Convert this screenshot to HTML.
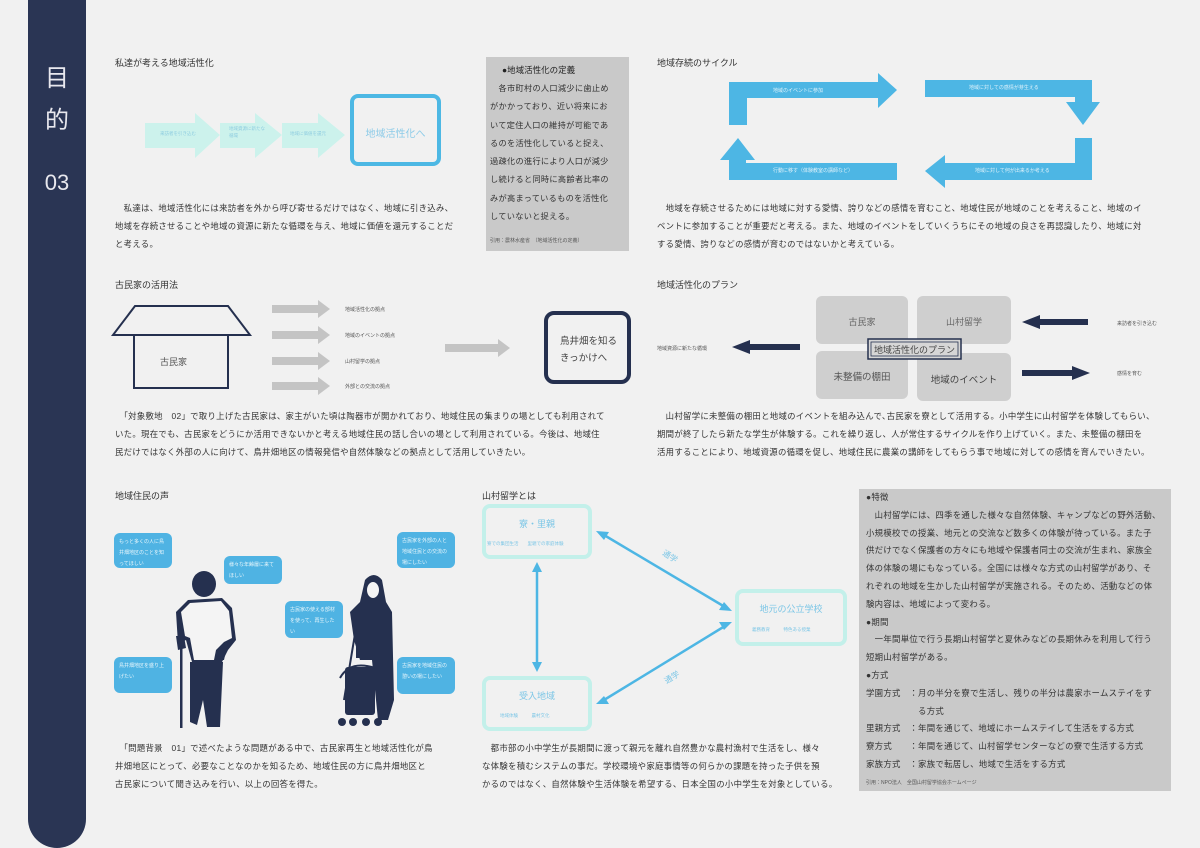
<!DOCTYPE html>
<html><head><meta charset="utf-8">
<style>
*{margin:0;padding:0;box-sizing:border-box}
body{width:1200px;height:848px;background:#f1f1f1;position:relative;overflow:hidden;font-family:"Liberation Sans","Noto Sans CJK JP",sans-serif;color:#333}
.a{position:absolute;white-space:nowrap}
.t{font-size:9px;color:#333}
.p{font-size:8.4px;line-height:18px;color:#333;letter-spacing:0.3px}
.s{font-size:5px;color:#555}
.gray{position:absolute;background:#c9c9c9}
.bub{position:absolute;background:#4fb3e3;border-radius:6px;color:#e8f6fc;font-size:5px;line-height:11px;padding:4px 5px;white-space:normal}
</style></head><body>
<div style="position:absolute;left:28px;top:-30px;width:58px;height:878px;background:#2a3554;border-radius:0 0 29px 29px"></div>
<div class="a" style="left:28px;width:58px;text-align:center;top:58px;color:#e8e8ee;font-size:24px">目</div>
<div class="a" style="left:28px;width:58px;text-align:center;top:100px;color:#e8e8ee;font-size:24px">的</div>
<div class="a" style="left:28px;width:58px;text-align:center;top:170px;color:#e8e8ee;font-size:22px">03</div>

<svg width="1200" height="848" style="position:absolute;left:0;top:0">
<g fill="#c9f3ec" opacity="0.9">
<polygon points="145,123 195,123 195,113 220,135 195,158 195,148 145,148"/>
<polygon points="220,123 255,123 255,113 282,135 255,158 255,148 220,148"/>
<polygon points="282,123 318,123 318,113 345,135 318,158 318,148 282,148"/>
</g>
<rect x="352" y="96" width="87" height="68" rx="6" fill="none" stroke="#4db8e4" stroke-width="4"/>
<g fill="#4db6e4">
<polygon points="729,82 878,82 878,73 897,90 878,108 878,98 747,98 747,125 729,125"/>
<polygon points="925,80 1092,80 1092,102 1100,102 1083,125 1066,102 1075,102 1075,97 925,97"/>
<polygon points="1075,138 1092,138 1092,180 945,180 945,188 925,171 945,155 945,163 1075,163"/>
<polygon points="897,163 897,180 729,180 729,160 720,160 738,138 755,160 746,160 746,163"/>
</g>
<g fill="none" stroke="#25304f" stroke-width="2">
<polygon points="135,306 228,306 250,335 113,335"/>
<rect x="134" y="335" width="94" height="53"/>
</g>
<g fill="#c4c4c4">
<polygon points="272,305 318,305 318,300 330,309 318,318 318,313 272,313"/>
<polygon points="272,331 318,331 318,326 330,335 318,344 318,339 272,339"/>
<polygon points="272,357 318,357 318,352 330,361 318,370 318,365 272,365"/>
<polygon points="272,382 318,382 318,377 330,386 318,395 318,390 272,390"/>
<polygon points="445,344 498,344 498,339 510,348 498,357 498,352 445,352"/>
</g>
<rect x="546" y="313" width="83" height="69" rx="8" fill="none" stroke="#25304f" stroke-width="4"/>
<g fill="#cfcfcf">
<rect x="816" y="296" width="92" height="48" rx="6"/>
<rect x="917" y="296" width="94" height="48" rx="6"/>
<rect x="816" y="351" width="92" height="48" rx="6"/>
<rect x="917" y="353" width="94" height="48" rx="6"/>
</g>
<g fill="#25304f">
<polygon points="800,344 750,344 750,340 732,347 750,354 750,350 800,350"/>
<polygon points="1088,319 1040,319 1040,315 1022,322 1040,329 1040,325 1088,325"/>
<polygon points="1022,370 1072,370 1072,366 1090,373 1072,380 1072,376 1022,376"/>
</g>
<rect x="868" y="339" width="93" height="20" fill="#d6d6d6" stroke="#25304f" stroke-width="1.5"/>
<rect x="871" y="342" width="87" height="14" fill="none" stroke="#25304f" stroke-width="0.8"/>
<g fill="none" stroke="#c3f0ea" stroke-width="4">
<rect x="484" y="506" width="106" height="51" rx="6"/>
<rect x="737" y="591" width="108" height="53" rx="6"/>
<rect x="484" y="678" width="106" height="51" rx="6"/>
</g>
<g stroke="#4db6e4" stroke-width="2.5" fill="#4db6e4">
<line x1="537" y1="568" x2="537" y2="666"/>
<polygon points="537,562 532,572 542,572" stroke="none"/>
<polygon points="537,672 532,662 542,662" stroke="none"/>
<line x1="604" y1="535" x2="725" y2="607"/>
<polygon points="596,531 609,532 604,540" stroke="none"/>
<polygon points="732,611 719,610 724,602" stroke="none"/>
<line x1="604" y1="700" x2="725" y2="626"/>
<polygon points="596,704 604,696 609,704" stroke="none"/>
<polygon points="732,622 724,630 719,622" stroke="none"/>
</g>
<g fill="#25304f">
<ellipse cx="204" cy="584" rx="12" ry="13"/>
<path d="M188,600 L222,598 L232,608 L236,640 L228,650 L222,662 L192,662 L186,640 L178,644 L176,612 Z"/>
<path d="M190,662 L223,662 L220,727 L207,727 L203,700 L197,725 L190,722 Z"/>
<rect x="180" y="640" width="2.5" height="88"/>
<path d="M176,636 L184,636 L186,648 L178,650 Z"/>
<path d="M215,650 L228,642 L224,660 L214,660 Z"/>
</g>
<path d="M190,603 L221,601 L229,611 L232,638 L224,642 L216,650 L214,660 L194,660 L190,638 L185,636 L181,612 Z" fill="#f4f4f4"/>
<g fill="#25304f">
<path d="M365,580 Q374,570 382,580 L386,602 L392,612 L394,700 L388,720 L378,720 L372,660 L360,660 L354,640 L350,612 L360,602 Z"/>
<rect x="356" y="630" width="20" height="28"/>
<rect x="345" y="667" width="30" height="48" rx="3"/>
<circle cx="342" cy="722" r="4"/><circle cx="353" cy="722" r="4"/><circle cx="366" cy="722" r="4"/><circle cx="378" cy="722" r="4"/>
</g>
<ellipse cx="373" cy="590" rx="6" ry="8" fill="#f4f4f4"/>
<g fill="none" stroke="#25304f" stroke-width="2">
<path d="M356,628 L378,628 L378,665"/>
<path d="M356,628 L344,700"/>
<path d="M340,678 Q350,660 375,668"/>
</g>
</svg>

<div class="a t" style="left:115px;top:56px">私達が考える地域活性化</div>
<div class="a" style="left:160px;top:131px;font-size:4.5px;color:#8fcde0">来訪者を引き込む</div>
<div class="a" style="left:229px;top:125px;font-size:4.5px;color:#8fcde0;line-height:7px">地域資源に新たな<br>循環</div>
<div class="a" style="left:290px;top:131px;font-size:4.5px;color:#8fcde0">地域に価値を還元</div>
<div class="a" style="left:352px;width:87px;text-align:center;top:125px;font-size:10px;color:#8ccbe8">地域活性化へ</div>
<div class="a p" style="left:115px;top:199px">　私達は、地域活性化には来訪者を外から呼び寄せるだけではなく、地域に引き込み、<br>地域を存続させることや地域の資源に新たな循環を与え、地域に価値を還元することだ<br>と考える。</div>

<div class="gray" style="left:486px;top:57px;width:143px;height:194px"></div>
<div class="a" style="left:502px;top:64px;font-size:8.5px;color:#222">●地域活性化の定義</div>
<div class="a p" style="left:490px;top:80px;font-size:8.2px;line-height:18.3px">　各市町村の人口減少に歯止め<br>がかかっており、近い将来にお<br>いて定住人口の維持が可能であ<br>るのを活性化していると捉え、<br>過疎化の進行により人口が減少<br>し続けると同時に高齢者比率の<br>みが高まっているものを活性化<br>していないと捉える。</div>
<div class="a s" style="left:490px;top:237px">引用：農林水産省　（地域活性化の定義）</div>

<div class="a t" style="left:657px;top:56px">地域存続のサイクル</div>
<div class="a" style="left:773px;top:87px;font-size:5px;color:#dff2fb">地域のイベントに参加</div>
<div class="a" style="left:969px;top:84px;font-size:5px;color:#dff2fb">地域に対しての感情が芽生える</div>
<div class="a" style="left:975px;top:167px;font-size:5px;color:#dff2fb">地域に対して何が出来るか考える</div>
<div class="a" style="left:773px;top:167px;font-size:5px;color:#dff2fb">行動に移す（体験教室の講師など）</div>
<div class="a p" style="left:657px;top:199px">　地域を存続させるためには地域に対する愛情、誇りなどの感情を育むこと、地域住民が地域のことを考えること、地域のイ<br>ベントに参加することが重要だと考える。また、地域のイベントをしていくうちにその地域の良さを再認識したり、地域に対<br>する愛情、誇りなどの感情が育むのではないかと考えている。</div>

<div class="a t" style="left:115px;top:278px">古民家の活用法</div>
<div class="a" style="left:160px;top:355px;font-size:9px;color:#555">古民家</div>
<div class="a s" style="left:345px;top:306px">地域活性化の拠点</div>
<div class="a s" style="left:345px;top:332px">地域のイベントの拠点</div>
<div class="a s" style="left:345px;top:358px">山村留学の拠点</div>
<div class="a s" style="left:345px;top:383px">外部との交流の拠点</div>
<div class="a" style="left:560px;top:333px;font-size:9.5px;line-height:17px;color:#444">鳥井畑を知る<br>きっかけへ</div>
<div class="a p" style="left:115px;top:407px">　「対象敷地　02」で取り上げた古民家は、家主がいた頃は陶器市が開かれており、地域住民の集まりの場としても利用されて<br>いた。現在でも、古民家をどうにか活用できないかと考える地域住民の話し合いの場として利用されている。今後は、地域住<br>民だけではなく外部の人に向けて、鳥井畑地区の情報発信や自然体験などの拠点として活用していきたい。</div>

<div class="a t" style="left:657px;top:278px">地域活性化のプラン</div>
<div class="a" style="left:816px;width:92px;text-align:center;top:315px;font-size:9px;color:#666">古民家</div>
<div class="a" style="left:917px;width:94px;text-align:center;top:315px;font-size:9px;color:#666">山村留学</div>
<div class="a" style="left:816px;width:92px;text-align:center;top:369px;font-size:9.5px;color:#555">未整備の棚田</div>
<div class="a" style="left:917px;width:94px;text-align:center;top:372px;font-size:9.5px;color:#444">地域のイベント</div>
<div class="a" style="left:868px;width:93px;text-align:center;top:343px;font-size:9px;color:#444">地域活性化のプラン</div>
<div class="a s" style="left:657px;top:345px">地域資源に新たな循環</div>
<div class="a s" style="left:1117px;top:320px">来訪者を引き込む</div>
<div class="a s" style="left:1117px;top:370px">感情を育む</div>
<div class="a p" style="left:657px;top:407px">　山村留学に未整備の棚田と地域のイベントを組み込んで､古民家を寮として活用する。小中学生に山村留学を体験してもらい、<br>期間が終了したら新たな学生が体験する。これを繰り返し、人が常住するサイクルを作り上げていく。また、未整備の棚田を<br>活用することにより、地域資源の循環を促し、地域住民に農業の講師をしてもらう事で地域に対しての感情を育んでいきたい。</div>

<div class="a t" style="left:115px;top:489px">地域住民の声</div>
<div class="bub" style="left:114px;top:533px;width:58px;height:35px">もっと多くの人に鳥井畑地区のことを知ってほしい</div>
<div class="bub" style="left:224px;top:556px;width:58px;height:28px">様々な年齢層に来てほしい</div>
<div class="bub" style="left:114px;top:657px;width:58px;height:36px">鳥井畑地区を盛り上げたい</div>
<div class="bub" style="left:397px;top:532px;width:58px;height:36px">古民家を外部の人と地域住民との交流の場にしたい</div>
<div class="bub" style="left:285px;top:601px;width:58px;height:37px">古民家の使える部材を使って、再生したい</div>
<div class="bub" style="left:397px;top:657px;width:58px;height:37px">古民家を地域住民の憩いの場にしたい</div>
<div class="a p" style="left:115px;top:739px">　「問題背景　01」で述べたような問題がある中で、古民家再生と地域活性化が鳥<br>井畑地区にとって、必要なことなのかを知るため、地域住民の方に鳥井畑地区と<br>古民家について聞き込みを行い、以上の回答を得た。</div>

<div class="a t" style="left:482px;top:489px">山村留学とは</div>
<div class="a" style="left:484px;width:106px;text-align:center;top:517px;font-size:9px;color:#7cc6e6">寮・里親</div>
<div class="a" style="left:487px;top:541px;font-size:4.5px;color:#7cc6e6">寮での集団生活　　里親での家庭体験</div>
<div class="a" style="left:737px;width:108px;text-align:center;top:602px;font-size:9px;color:#7cc6e6">地元の公立学校</div>
<div class="a" style="left:752px;top:627px;font-size:4.5px;color:#7cc6e6">義務教育　　　特色ある授業</div>
<div class="a" style="left:484px;width:106px;text-align:center;top:689px;font-size:9px;color:#7cc6e6">受入地域</div>
<div class="a" style="left:500px;top:713px;font-size:4.5px;color:#7cc6e6">地域体験　　　農村文化</div>
<div class="a" style="left:662px;top:551px;font-size:8px;color:#7cc6e6;transform:rotate(32deg)">通学</div>
<div class="a" style="left:664px;top:672px;font-size:8px;color:#7cc6e6;transform:rotate(-32deg)">通学</div>
<div class="a p" style="left:482px;top:739px">　都市部の小中学生が長期間に渡って親元を離れ自然豊かな農村漁村で生活をし、様々<br>な体験を積むシステムの事だ。学校環境や家庭事情等の何らかの課題を持った子供を預<br>かるのではなく、自然体験や生活体験を希望する、日本全国の小中学生を対象としている。</div>

<div class="gray" style="left:859px;top:489px;width:312px;height:302px"></div>
<div class="a p" style="left:866px;top:489px;font-size:8.4px;line-height:17.8px">●特徴<br>　山村留学には、四季を通した様々な自然体験、キャンプなどの野外活動、<br>小規模校での授業、地元との交流など数多くの体験が待っている。また子<br>供だけでなく保護者の方々にも地域や保護者同士の交流が生まれ、家族全<br>体の体験の場にもなっている。全国には様々な方式の山村留学があり、そ<br>れぞれの地域を生かした山村留学が実施される。そのため、活動などの体<br>験内容は、地域によって変わる。<br>●期間<br>　一年間単位で行う長期山村留学と夏休みなどの長期休みを利用して行う<br>短期山村留学がある。<br>●方式<br>学園方式　：月の半分を寮で生活し、残りの半分は農家ホームステイをす<br>　　　　　　る方式<br>里親方式　：年間を通じて、地域にホームステイして生活をする方式<br>寮方式　　：年間を通じて、山村留学センターなどの寮で生活する方式<br>家族方式　：家族で転居し、地域で生活をする方式</div>
<div class="a s" style="left:866px;top:779px">引用：NPO法人　全国山村留学協会ホームページ</div>
</body></html>
